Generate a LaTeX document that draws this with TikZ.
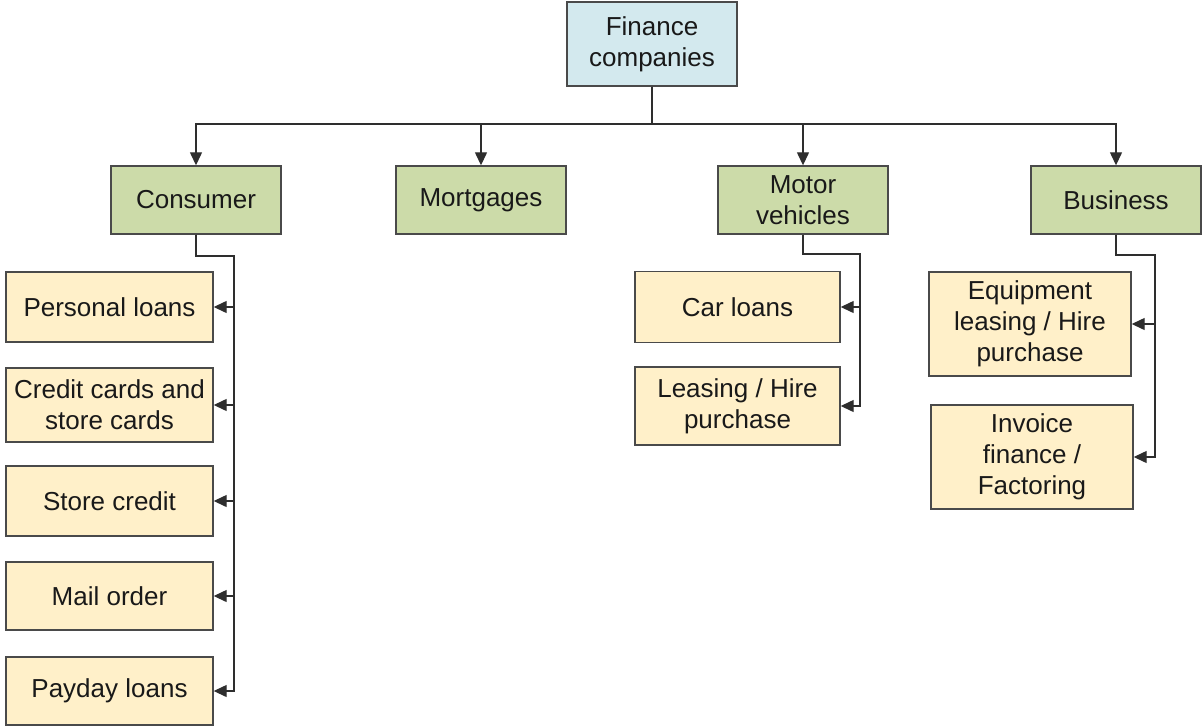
\documentclass[tikz,border=0pt]{standalone}
\usepackage{fontspec}
\setmainfont{Liberation Sans}
\usepackage{xcolor}
\usetikzlibrary{arrows.meta}
\definecolor{topfill}{HTML}{D3E9EE}
\definecolor{catfill}{HTML}{CCDBA9}
\definecolor{itemfill}{HTML}{FFF0C9}
\definecolor{edge}{HTML}{4A4A4A}
\definecolor{wire}{HTML}{2E2E2E}
\tikzset{
  box/.style={draw=edge, line width=1.4pt, inner sep=0pt, align=center,
    font=\fontsize{26}{31}\selectfont, text=black!90},
  topbox/.style={box, fill=topfill, minimum width=170, minimum height=84},
  catbox/.style={box, fill=catfill, minimum width=170, minimum height=68},
  itembox/.style={box, fill=itemfill, minimum width=207, minimum height=70},
  tallbox/.style={box, fill=itemfill, minimum width=202, minimum height=104},
  link/.style={draw=wire, line width=1.3pt, -{Triangle[length=13pt,width=12pt]}},
}

\begin{document}
\begin{tikzpicture}[x=1pt,y=-1pt]
  \useasboundingbox (0,0) rectangle (1203,726);

  % top
  \node[topbox] (fin) at (652,44) {Finance\\companies};
  \coordinate (bus) at (652,124);

  % categories
  \node[catbox] (cons) at (196,200) {Consumer};
  \node[catbox] (mort) at (481,200) {Mortgages};
  \node[catbox] (motor) at (803,200) {Motor\\vehicles};
  \node[catbox] (bus2) at (1116,200) {Business};

  \draw[link] (fin.south) -- (bus) -| (cons.north);
  \draw[link] (fin.south) -- (bus) -| (mort.north);
  \draw[link] (fin.south) -- (bus) -| (motor.north);
  \draw[link] (fin.south) -- (bus) -| (bus2.north);

  % consumer items
  \node[itembox] (pers) at (109.5,307) {Personal loans};
  \node[itembox, minimum height=74] (cards) at (109.5,405) {Credit cards and\\store cards};
  \node[itembox] (store) at (109.5,501) {Store credit};
  \node[itembox, minimum height=68] (mail) at (109.5,596) {Mail order};
  \node[itembox, minimum height=68] (payday) at (109.5,691) {Payday loans};
  \coordinate (cturn) at (234,256);
  \foreach \n in {pers,cards,store,mail,payday}
    \draw[link] (cons.south) |- (cturn) |- (\n.east);

  % motor vehicle items
  \node[itembox, minimum width=205, minimum height=71] (car) at (737.5,307) {Car loans};
  \node[itembox, minimum width=205, minimum height=78] (lease) at (737.5,406) {Leasing / Hire\\purchase};
  \coordinate (mturn) at (860,254);
  \foreach \n in {car,lease}
    \draw[link] (motor.south) |- (mturn) |- (\n.east);

  % business items
  \node[tallbox] (equip) at (1030,324) {Equipment\\leasing / Hire\\purchase};
  \node[tallbox] (inv) at (1032,457) {Invoice\\finance /\\Factoring};
  \coordinate (bturn) at (1155,255);
  \foreach \n in {equip,inv}
    \draw[link] (bus2.south) |- (bturn) |- (\n.east);
\end{tikzpicture}
\end{document}
